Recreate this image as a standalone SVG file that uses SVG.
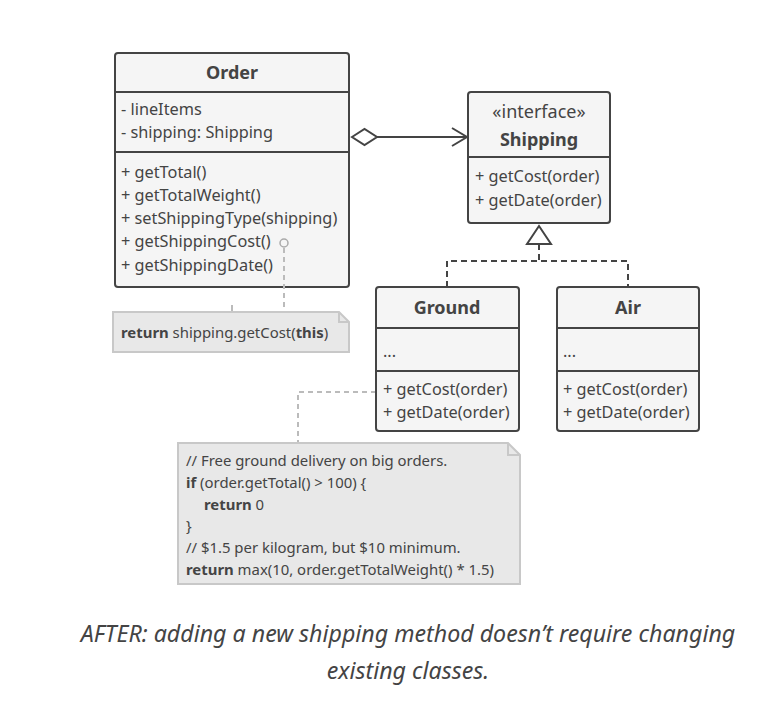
<svg xmlns="http://www.w3.org/2000/svg" width="769" height="728" viewBox="0 0 769 728">
<style>
.box{fill:#f5f5f5;stroke:#444;stroke-width:2}
.sep{stroke:#444;stroke-width:2}
.t{font-family:"Noto Sans",sans-serif;font-size:16.3px;fill:#444}
.b{font-weight:bold;font-size:18px}
.c{text-anchor:middle}
.st{font-size:18px}
.note{fill:#e8e8e8;stroke:#c8c8c8;stroke-width:2}
.nt{font-family:"Noto Sans",sans-serif;font-size:14.9px;fill:#444}
.dash{fill:none;stroke:#bbb;stroke-width:2;stroke-dasharray:5 4}
.cap{font-family:"Noto Sans",sans-serif;font-style:italic;font-size:23.2px;fill:#444;text-anchor:middle}
</style>
<rect width="769" height="728" fill="#fff"/>
<g id="order">
<rect class="box" x="115" y="53" width="234" height="234" rx="3"/>
<path class="sep" d="M115 92 H349 M115 152 H349"/>
<text class="t b c" x="232" y="79">Order</text>
<text class="t" x="121" y="115">- lineItems</text>
<text class="t" x="121" y="138">- shipping: Shipping</text>
<text class="t" x="121" y="178">+ getTotal()</text>
<text class="t" x="121" y="201">+ getTotalWeight()</text>
<text class="t" x="121" y="224">+ setShippingType(shipping)</text>
<text class="t" x="121" y="247">+ getShippingCost()</text>
<text class="t" x="121" y="271">+ getShippingDate()</text>
</g>
<g id="connectors">
<path class="dash" d="M284 248 V312"/>
<path d="M232 305 V312" stroke="#bbb" stroke-width="2"/>
<circle cx="284" cy="243" r="4" fill="#f5f5f5" stroke="#aaa" stroke-width="1.5"/>
<path class="dash" d="M376 392 H298 V442"/>
<path d="M377 137 H466" stroke="#444" stroke-width="2" fill="none"/>
<path d="M452 128 L467 137 L452 146" stroke="#444" stroke-width="2" fill="none"/>
<path d="M352 137 L364.5 129 L377 137 L364.5 145 Z" fill="#fff" stroke="#444" stroke-width="2"/>
<path d="M539 244 V261 M447 287 V261 H628 V287" fill="none" stroke="#444" stroke-width="2" stroke-dasharray="6 4"/>
<path d="M539 226 L551 244 H527 Z" fill="#fff" stroke="#444" stroke-width="2"/>
</g>
<g id="note1">
<path class="note" d="M113 312 H339 L349 322 V352 H113 Z"/>
<path d="M339 312 V322 H349" fill="none" stroke="#c8c8c8" stroke-width="2"/>
<text class="nt" x="121" y="338"><tspan font-weight="bold">return</tspan> shipping.getCost(<tspan font-weight="bold">this</tspan>)</text>
</g>
<g id="shipping">
<rect class="box" x="468" y="92" width="142" height="131" rx="3"/>
<path class="sep" d="M468 157 H610"/>
<text class="t c st" x="539" y="118">«interface»</text>
<text class="t b c" x="539" y="146">Shipping</text>
<text class="t" x="475" y="182">+ getCost(order)</text>
<text class="t" x="475" y="206">+ getDate(order)</text>
</g>
<g id="ground">
<rect class="box" x="376" y="287" width="143" height="144" rx="3"/>
<path class="sep" d="M376 328 H519 M376 371 H519"/>
<text class="t b c" x="447" y="314">Ground</text>
<text class="t" x="383" y="357">...</text>
<text class="t" x="383" y="395">+ getCost(order)</text>
<text class="t" x="383" y="418">+ getDate(order)</text>
</g>
<g id="air">
<rect class="box" x="557" y="287" width="142" height="144" rx="3"/>
<path class="sep" d="M557 328 H699 M557 371 H699"/>
<text class="t b c" x="628" y="314">Air</text>
<text class="t" x="563" y="357">...</text>
<text class="t" x="563" y="395">+ getCost(order)</text>
<text class="t" x="563" y="418">+ getDate(order)</text>
</g>
<g id="note2">
<path class="note" d="M178 443 H508 L520 455 V584 H178 Z"/>
<path d="M508 443 V455 H520" fill="none" stroke="#c8c8c8" stroke-width="2"/>
<text class="nt" x="186" y="466">// Free ground delivery on big orders.</text>
<text class="nt" x="186" y="488"><tspan font-weight="bold">if</tspan> (order.getTotal() &gt; 100) {</text>
<text class="nt" x="204" y="510"><tspan font-weight="bold">return</tspan> 0</text>
<text class="nt" x="186" y="531">}</text>
<text class="nt" x="186" y="553">// $1.5 per kilogram, but $10 minimum.</text>
<text class="nt" x="186" y="575"><tspan font-weight="bold">return</tspan> max(10, order.getTotalWeight() * 1.5)</text>
</g>
<g id="caption">
<text class="cap" x="408" y="642">AFTER: adding a new shipping method doesn’t require changing</text>
<text class="cap" x="408" y="679">existing classes.</text>
</g>
</svg>
